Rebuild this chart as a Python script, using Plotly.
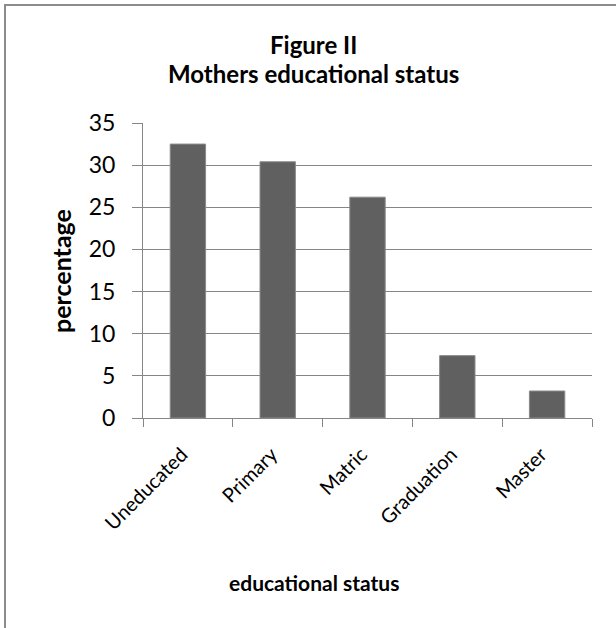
import plotly.graph_objects as go

# Mothers' educational status (percentage of respondents)
categories = ["Uneducated", "Primary", "Matric", "Graduation", "Master"]
percentages = [32.5, 30.4, 26.2, 7.4, 3.2]
y_ticks = [0, 5, 10, 15, 20, 25, 30, 35]

W, H = 616, 628
M_L, M_R, M_T, M_B = 143, 24, 123, 210
plot_w = W - M_L - M_R
plot_h = H - M_T - M_B

FONT = "Lato"
AXIS_GREY = "#868686"
BAR_FILL = "#606060"


def px_to_paper_x(px):
    return (px - M_L) / plot_w


def px_to_paper_y(py):
    return (H - M_B - py) / plot_h


fig = go.Figure(
    go.Bar(
        x=categories,
        y=percentages,
        marker=dict(color=BAR_FILL, line=dict(color="#8a8a8a", width=1)),
        hoverinfo="x+y",
    )
)

fig.update_layout(
    width=W,
    height=H,
    margin=dict(l=M_L, r=M_R, t=M_T, b=M_B),
    paper_bgcolor="white",
    plot_bgcolor="white",
    bargap=0.606,
    showlegend=False,
    font=dict(family=FONT, color="#000000"),
)

fig.update_xaxes(
    type="category",
    tickson="boundaries",
    ticks="outside",
    ticklen=8,
    tickcolor=AXIS_GREY,
    tickwidth=1,
    showline=True,
    linecolor=AXIS_GREY,
    linewidth=1,
    showgrid=False,
    tickangle=-45,
    ticklabelstandoff=16,
    ticklabelshift=-6,
    tickfont=dict(family=FONT, size=20, color="#000000"),
)

fig.update_yaxes(
    range=[0, 35],
    tickvals=y_ticks,
    ticks="outside",
    ticklen=10,
    tickcolor=AXIS_GREY,
    tickwidth=1,
    showline=True,
    linecolor=AXIS_GREY,
    linewidth=1,
    showgrid=True,
    gridcolor=AXIS_GREY,
    gridwidth=1,
    zeroline=False,
    ticklabelstandoff=12,
    tickfont=dict(family=FONT, size=23, color="#000000"),
)

annotations = [
    dict(text="<b>Figure II</b>", x=313, y=45, size=24),
    dict(text="<b>Mothers educational status</b>", x=313, y=73, size=24),
    dict(text="<b>educational status</b>", x=314, y=582, size=21),
]
for a in annotations:
    fig.add_annotation(
        text=a["text"],
        xref="paper",
        yref="paper",
        x=px_to_paper_x(a["x"]),
        y=px_to_paper_y(a["y"]),
        xanchor="center",
        yanchor="middle",
        showarrow=False,
        font=dict(family=FONT, size=a["size"], color="#000000"),
    )

fig.add_annotation(
    text="<b>percentage</b>",
    xref="paper",
    yref="paper",
    x=px_to_paper_x(61),
    y=px_to_paper_y(271),
    xanchor="center",
    yanchor="middle",
    textangle=-90,
    showarrow=False,
    font=dict(family=FONT, size=25, color="#000000"),
)

# Chart-area frame: left and top edges
frame = dict(type="line", xref="paper", yref="paper",
             line=dict(color="#8c8c8c", width=2), layer="above")
fig.add_shape(**frame, x0=px_to_paper_x(5), x1=px_to_paper_x(5),
              y0=px_to_paper_y(4), y1=px_to_paper_y(H))
fig.add_shape(**frame, x0=px_to_paper_x(4), x1=px_to_paper_x(W),
              y0=px_to_paper_y(5), y1=px_to_paper_y(5))

# Keep the page from scrolling so no scrollbar overlays the chart
no_scroll = (
    "document.documentElement.style.overflow='hidden';"
    "document.body.style.overflow='hidden';"
    "document.body.style.margin='0';"
)
fig.write_html("out.html", post_script=no_scroll)
